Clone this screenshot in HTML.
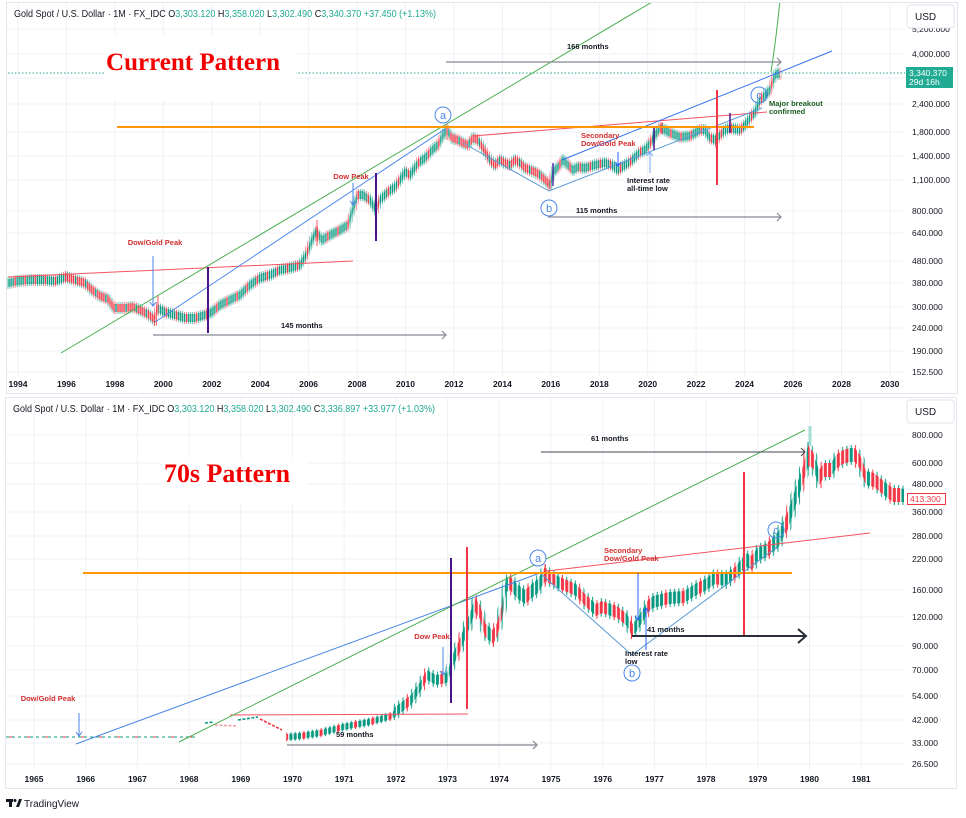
<!DOCTYPE html>
<html><head><meta charset="utf-8">
<style>
html,body{margin:0;padding:0;background:#fff;}
svg{display:block;font-family:"Liberation Sans",sans-serif;}
.ax{font-size:8.5px;fill:#131722;}
.tx{font-size:8.5px;fill:#131722;font-weight:bold;text-anchor:middle;}
.an{font-size:7.5px;font-weight:bold;}
</style></head><body>
<svg width="966" height="818" viewBox="0 0 966 818" xmlns="http://www.w3.org/2000/svg">
<defs>
<clipPath id="c1"><rect x="7" y="3" width="898" height="373"/></clipPath>
<clipPath id="c2"><rect x="6" y="398" width="899" height="372"/></clipPath>
<pattern id="tu" patternUnits="userSpaceOnUse" x="0" y="0" width="10.09" height="10">
<rect x="0.3" y="0" width="1.35" height="10" fill="#089981"/>
<rect x="2.32" y="0" width="1.35" height="10" fill="#089981"/>
<rect x="4.34" y="0" width="1.35" height="10" fill="#f23645"/>
<rect x="6.36" y="0" width="1.35" height="10" fill="#089981"/>
<rect x="8.38" y="0" width="1.35" height="10" fill="#089981"/>
</pattern>
<pattern id="td" patternUnits="userSpaceOnUse" x="0" y="0" width="10.09" height="10">
<rect x="0.3" y="0" width="1.35" height="10" fill="#f23645"/>
<rect x="2.32" y="0" width="1.35" height="10" fill="#f23645"/>
<rect x="4.34" y="0" width="1.35" height="10" fill="#089981"/>
<rect x="6.36" y="0" width="1.35" height="10" fill="#f23645"/>
<rect x="8.38" y="0" width="1.35" height="10" fill="#f23645"/>
</pattern>
<pattern id="tw" patternUnits="userSpaceOnUse" x="0" y="0" width="10.09" height="10">
<rect x="0.7" y="0" width="0.6" height="10" fill="#089981"/>
<rect x="2.72" y="0" width="0.6" height="10" fill="#f23645"/>
<rect x="4.74" y="0" width="0.6" height="10" fill="#f23645"/>
<rect x="6.76" y="0" width="0.6" height="10" fill="#089981"/>
<rect x="8.78" y="0" width="0.6" height="10" fill="#089981"/>
</pattern>
<pattern id="bu" patternUnits="userSpaceOnUse" x="0" y="0" width="17.24" height="10">
<rect x="0.65" y="0" width="3" height="10" fill="#089981"/>
<rect x="4.96" y="0" width="3" height="10" fill="#089981"/>
<rect x="9.27" y="0" width="3" height="10" fill="#f23645"/>
<rect x="13.58" y="0" width="3" height="10" fill="#089981"/>
</pattern>
<pattern id="bd" patternUnits="userSpaceOnUse" x="0" y="0" width="17.24" height="10">
<rect x="0.65" y="0" width="3" height="10" fill="#f23645"/>
<rect x="4.96" y="0" width="3" height="10" fill="#089981"/>
<rect x="9.27" y="0" width="3" height="10" fill="#f23645"/>
<rect x="13.58" y="0" width="3" height="10" fill="#f23645"/>
</pattern>
<pattern id="bw" patternUnits="userSpaceOnUse" x="0" y="0" width="17.24" height="10">
<rect x="1.65" y="0" width="1" height="10" fill="#089981"/>
<rect x="5.96" y="0" width="1" height="10" fill="#089981"/>
<rect x="10.27" y="0" width="1" height="10" fill="#f23645"/>
<rect x="14.58" y="0" width="1" height="10" fill="#089981"/>
</pattern>
</defs>
<rect x="0" y="0" width="966" height="818" fill="#fff"/>
<rect x="6.5" y="2.5" width="951" height="391" fill="none" stroke="#e3e6ec" stroke-width="1"/>
<rect x="5.5" y="397.5" width="951" height="391" fill="none" stroke="#e3e6ec" stroke-width="1"/>

<path stroke="#eff1f5" stroke-width="1" fill="none" d="M7 29H905M7 54H905M7 78H905M7 104H905M7 132H905M7 156H905M7 180H905M7 211H905M7 233H905M7 261H905M7 283H905M7 307H905M7 328H905M7 351H905M7 372H905
M18 3V376M66.4 3V376M114.9 3V376M163.3 3V376M211.8 3V376M260.2 3V376M308.6 3V376M357.1 3V376M405.5 3V376M453.9 3V376M502.4 3V376M550.8 3V376M599.3 3V376M647.7 3V376M696.1 3V376M744.6 3V376M793 3V376M841.5 3V376M889.9 3V376"/>
<path stroke="#eff1f5" stroke-width="1" fill="none" d="M6 435H905M6 463H905M6 484H905M6 512H905M6 536H905M6 559H905M6 590H905M6 617H905M6 646H905M6 670H905M6 696H905M6 720H905M6 743H905M6 764H905
M34 398V770M85.7 398V770M137.4 398V770M189.1 398V770M240.8 398V770M292.5 398V770M344.2 398V770M395.9 398V770M447.6 398V770M499.3 398V770M551 398V770M602.7 398V770M654.4 398V770M706.1 398V770M757.8 398V770M809.5 398V770M861.2 398V770"/>

<line x1="8" y1="73" x2="905" y2="73" stroke="#22ab94" stroke-width="1" stroke-dasharray="1.5 2"/>
<rect x="104" y="35" width="192" height="65" fill="#fff"/>
<rect x="160" y="458" width="146" height="45" fill="#fff"/>

<g clip-path="url(#c1)" stroke-width="4" stroke-linejoin="round" paint-order="stroke">
<polygon fill="url(#tu)" stroke="url(#tw)" points="8,279 18,277 30,276 45,276 55,277 66,273 66,281 55,285 45,284 30,284 18,285 8,287"/>
<polygon fill="url(#td)" stroke="url(#tw)" points="66,273 75,276 85,279 92,286 100,292 108,295 114,304 125,304 133,303 140,306 148,310 155,316 155,324 148,318 140,314 133,311 125,312 114,312 108,303 100,300 92,294 85,287 75,284 66,281"/>
<polygon fill="url(#tu)" stroke="url(#tw)" points="155,316 157,304 165,308 175,311 185,314 195,314 205,311 212,308 220,301 230,296 240,291 250,281 260,274 270,271 280,266 290,264 300,261 306,251 312,236 316,228 322,236 330,231 340,226 348,221 352,208 358,191 363,191 370,196 376,206 380,196 388,188 395,183 400,176 405,168 410,171 418,159 425,154 432,146 438,141 443,131 447,126 447,134 443,139 438,149 432,154 425,162 418,167 410,179 405,176 400,184 395,191 388,196 380,204 376,214 370,204 363,199 358,199 352,216 348,229 340,234 330,239 322,244 316,236 312,244 306,259 300,269 290,272 280,274 270,279 260,282 250,289 240,299 230,304 220,309 212,316 205,319 195,322 185,322 175,319 165,316 157,312 155,324"/>
<polygon fill="url(#td)" stroke="url(#tw)" points="447,126 452,134 458,136 463,139 468,141 473,134 478,136 483,144 487,151 490,156 495,161 500,156 505,159 510,161 515,156 520,159 525,164 530,166 535,168 540,171 545,176 550,181 550,189 545,184 540,179 535,176 530,174 525,172 520,167 515,164 510,169 505,167 500,164 495,169 490,164 487,159 483,152 478,144 473,142 468,149 463,147 458,144 452,142 447,134"/>
<polygon fill="url(#tu)" stroke="url(#tw)" points="550,181 553,168 558,163 563,156 568,161 573,166 578,163 585,164 595,161 605,159 612,161 618,166 625,161 630,158 635,153 640,148 645,146 650,139 655,131 660,124 665,126 670,129 675,131 680,133 690,132 700,126 705,126 710,134 716,136 720,131 725,126 730,124 740,126 745,121 750,114 755,108 760,96 765,91 770,86 773,76 776,70 779,69 780,78 776,78 773,84 770,94 765,99 760,104 755,116 750,122 745,129 740,134 730,132 725,134 720,139 716,144 710,142 705,134 700,134 690,140 680,141 675,139 670,137 665,134 660,132 655,139 650,147 645,154 640,156 635,161 630,166 625,169 618,174 612,169 605,167 595,169 585,172 578,171 573,174 568,169 563,164 558,171 553,176 550,189"/>
</g>
<path d="M158 295V315M317 220V246M447 126V140M376 200V226M662 122V134M716 138V148" stroke="#f7525f" stroke-width="1" fill="none"/>

<g clip-path="url(#c2)" stroke-width="6" stroke-linejoin="round" paint-order="stroke">
<polygon fill="url(#bu)" stroke="url(#bw)" stroke-width="3" points="287,734 300,733 320,730 343,724 369,719 392,713 395,709 395,715 392,719 369,725 343,730 320,736 300,739 287,740"/>
<polygon fill="url(#bu)" stroke="url(#bw)" points="395,707 411,695 420,682 427,670 436,675 447,673 452,656 460,638 470,613 475,598 475,612 470,627 460,652 452,668 447,683 436,685 427,680 420,692 411,705 395,717"/>
<polygon fill="url(#bd)" stroke="url(#bw)" points="475,598 480,605 485,623 493,630 497,623 503,600 503,614 497,637 493,644 485,637 480,619 475,612"/>
<polygon fill="url(#bu)" stroke="url(#bw)" points="503,600 506,578 510,576 518,585 525,590 533,583 538,579 545,567 545,581 538,593 533,597 525,604 518,599 510,590 506,592 503,614"/>
<polygon fill="url(#bd)" stroke="url(#bw)" points="545,567 550,572 560,577 576,584 585,594 596,604 602,601 617,606 627,614 632,624 632,636 627,626 617,618 602,613 596,616 585,606 576,596 560,589 550,584 545,581"/>
<polygon fill="url(#bu)" stroke="url(#bw)" points="632,624 637,619 643,609 648,600 653,596 669,592 684,591 695,584 705,579 715,572 726,574 736,566 746,553 752,556 757,548 767,543 778,532 783,522 788,511 793,496 798,481 803,466 808,445 808,466 803,484 798,499 793,514 788,529 783,538 778,548 767,557 757,562 752,570 746,567 736,578 726,586 715,584 705,591 695,596 684,603 669,604 653,608 648,612 643,621 637,631 632,636"/>
<polygon fill="url(#bd)" stroke="url(#bw)" points="808,445 813,452 819,470 824,463 831,463 836,455 843,450 850,448 855,448 860,455 866,471 874,473 880,478 886,483 893,488 900,488 904,489 904,502 900,502 893,502 886,497 880,492 874,487 866,485 860,469 855,462 850,462 843,464 836,469 831,477 824,477 819,486 813,468 808,466"/>
</g>
<rect x="808.5" y="426" width="3" height="20" fill="#a5dcd3"/>
<g fill="none" stroke-width="1.6">
<path d="M205 723L214 722" stroke="#089981" stroke-dasharray="3 1.5"/>
<path d="M215 725L237 726" stroke="#f7a1a8" stroke-dasharray="3 1.5"/>
<path d="M238 720L258 717" stroke="#089981" stroke-dasharray="3 1.5"/>
<path d="M260 719L282 730" stroke="#f23645" stroke-dasharray="3 1.5"/>
</g>

<g clip-path="url(#c1)" fill="none">
<line x1="8" y1="277" x2="353" y2="261" stroke="#f7525f" stroke-width="1"/>
<line x1="473" y1="136" x2="767" y2="112" stroke="#f7525f" stroke-width="1"/>
<line x1="61" y1="353" x2="652" y2="2" stroke="#4caf50" stroke-width="1"/>
<path d="M771 72 Q776 40 780 0" stroke="#4caf50" stroke-width="1"/>
<line x1="155" y1="322" x2="445" y2="129" stroke="#4a86e8" stroke-width="1"/>
<polyline points="463,143 549,191 762,108" stroke="#5b9bd5" stroke-width="1"/>
<line x1="562" y1="160" x2="832" y2="51" stroke="#3570f0" stroke-width="1"/>
<line x1="117" y1="127" x2="754" y2="127" stroke="#ff9800" stroke-width="2"/>
<line x1="717" y1="90" x2="717" y2="185" stroke="#f23645" stroke-width="2"/>
<line x1="208" y1="267" x2="208" y2="333" stroke="#4a148c" stroke-width="2"/>
<line x1="376" y1="173" x2="376" y2="241" stroke="#4a148c" stroke-width="2"/>
<line x1="553" y1="163" x2="553" y2="186" stroke="#5e35b1" stroke-width="1.5"/>
<line x1="654" y1="128" x2="654" y2="150" stroke="#4a148c" stroke-width="1.5"/>
<line x1="730" y1="113" x2="730" y2="133" stroke="#4a148c" stroke-width="1.5"/>
<path d="M153 256V306M150 302L153 306L156 302" stroke="#4a86e8" stroke-width="1"/>
<path d="M353 183V205M350 201L353 205L356 201" stroke="#4a86e8" stroke-width="1"/>
<path d="M618 152V166M615 162L618 166L621 162" stroke="#2962ff" stroke-width="1"/>
<path d="M650 173V152M647 156L650 152L653 156" stroke="#7aa7f0" stroke-width="1"/>
<path d="M446 62H781M777 58L781 62L777 66" stroke="#868993" stroke-width="1.2"/>
<path d="M548 217H781M777 213L781 217L777 221" stroke="#868993" stroke-width="1.2"/>
<path d="M153 335H446M442 331L446 335L442 339" stroke="#868993" stroke-width="1.2"/>
<circle cx="443" cy="115" r="8" stroke="#4a86e8" stroke-width="1" fill="#fff"/>
<circle cx="549" cy="208" r="8" stroke="#4a86e8" stroke-width="1" fill="#fff"/>
<circle cx="759" cy="95" r="8" stroke="#4a86e8" stroke-width="1"/>
</g>
<g>
<text x="443" y="119" font-size="11" fill="#4a86e8" text-anchor="middle">a</text>
<text x="549" y="212" font-size="11" fill="#4a86e8" text-anchor="middle">b</text>
<text x="759" y="99" font-size="11" fill="#4a86e8" text-anchor="middle">c</text>
<text class="an" x="155" y="245" fill="#d32f2f" text-anchor="middle">Dow/Gold Peak</text>
<text class="an" x="351" y="179" fill="#d32f2f" text-anchor="middle">Dow Peak</text>
<text class="an" x="581" y="138" fill="#d32f2f">Secondary</text>
<text class="an" x="581" y="146" fill="#d32f2f">Dow/Gold Peak</text>
<text class="an" x="627" y="183" fill="#131722">Interest rate</text>
<text class="an" x="627" y="191" fill="#131722">all-time low</text>
<text class="an" x="769" y="106" fill="#1b5e20">Major breakout</text>
<text class="an" x="769" y="114" fill="#1b5e20">confirmed</text>
<text class="an" x="567" y="49" fill="#131722">166 months</text>
<text class="an" x="576" y="213" fill="#131722">115 months</text>
<text class="an" x="281" y="328" fill="#131722">145 months</text>
</g>

<g clip-path="url(#c2)" fill="none">
<line x1="6" y1="737" x2="198" y2="737" stroke="#089981" stroke-width="1" stroke-dasharray="3 3"/>
<line x1="9" y1="737" x2="198" y2="737" stroke="#f23645" stroke-width="1" stroke-dasharray="3 15"/>
<line x1="230" y1="715" x2="468" y2="714" stroke="#f7525f" stroke-width="1"/>
<line x1="76" y1="744" x2="540" y2="573" stroke="#4a86e8" stroke-width="1"/>
<line x1="179" y1="742" x2="805" y2="430" stroke="#4caf50" stroke-width="1"/>
<polyline points="540,573 632,655 777,547" stroke="#5b9bd5" stroke-width="1"/>
<line x1="547" y1="571" x2="870" y2="533" stroke="#f7525f" stroke-width="1"/>
<line x1="83" y1="573" x2="792" y2="573" stroke="#ff9800" stroke-width="2"/>
<line x1="451" y1="558" x2="451" y2="703" stroke="#4a148c" stroke-width="2"/>
<line x1="467" y1="547" x2="467" y2="709" stroke="#f23645" stroke-width="2"/>
<line x1="744" y1="472" x2="744" y2="637" stroke="#f23645" stroke-width="2"/>
<path d="M638 573V620M635 616L638 620L641 616" stroke="#2962ff" stroke-width="1"/>
<path d="M646 650V608M643 612L646 608L649 612" stroke="#2962ff" stroke-width="1"/>
<path d="M443 647V675M440 671L443 675L446 671" stroke="#4a86e8" stroke-width="1"/>
<path d="M79 713V736M76 732L79 736L82 732" stroke="#4a86e8" stroke-width="1"/>
<path d="M541 452H805M801 448L805 452L801 456" stroke="#434651" stroke-width="1"/>
<path d="M632 636H806M798 629L806 636L798 643" stroke="#2a2e39" stroke-width="2"/>
<path d="M287 745H537M533 741L537 745L533 749" stroke="#9598a1" stroke-width="1.5"/>
<circle cx="538" cy="558" r="8" stroke="#4a86e8" stroke-width="1" fill="#fff"/>
<circle cx="632" cy="673" r="8" stroke="#4a86e8" stroke-width="1" fill="#fff"/>
<circle cx="776" cy="530" r="8" stroke="#4a86e8" stroke-width="1"/>
</g>
<g>
<text x="538" y="562" font-size="11" fill="#4a86e8" text-anchor="middle">a</text>
<text x="632" y="677" font-size="11" fill="#4a86e8" text-anchor="middle">b</text>
<text x="776" y="534" font-size="11" fill="#4a86e8" text-anchor="middle">c</text>
<text class="an" x="48" y="701" fill="#d32f2f" text-anchor="middle">Dow/Gold Peak</text>
<text class="an" x="432" y="639" fill="#d32f2f" text-anchor="middle">Dow Peak</text>
<text class="an" x="604" y="553" fill="#d32f2f">Secondary</text>
<text class="an" x="604" y="561" fill="#d32f2f">Dow/Gold Peak</text>
<text class="an" x="625" y="656" fill="#131722">Interest rate</text>
<text class="an" x="625" y="664" fill="#131722">low</text>
<text class="an" x="647" y="632" fill="#131722">41 months</text>
<text class="an" x="591" y="441" fill="#131722">61 months</text>
<text class="an" x="336" y="737" fill="#131722">59 months</text>
</g>

<text x="106" y="70" font-family="Liberation Serif, serif" font-weight="bold" font-size="25" fill="#f20000" textLength="174" lengthAdjust="spacingAndGlyphs">Current Pattern</text>
<text x="164" y="482" font-family="Liberation Serif, serif" font-weight="bold" font-size="26" fill="#f20000" textLength="126" lengthAdjust="spacingAndGlyphs">70s Pattern</text>

<text x="14" y="17" font-size="10" fill="#131722" textLength="422" lengthAdjust="spacingAndGlyphs">Gold Spot / U.S. Dollar · 1M · FX_IDC  O<tspan fill="#22ab94">3,303.120</tspan>  H<tspan fill="#22ab94">3,358.020</tspan>  L<tspan fill="#22ab94">3,302.490</tspan>  C<tspan fill="#22ab94">3,340.370</tspan>  <tspan fill="#22ab94">+37.450 (+1.13%)</tspan></text>
<text x="13" y="412" font-size="10" fill="#131722" textLength="422" lengthAdjust="spacingAndGlyphs">Gold Spot / U.S. Dollar · 1M · FX_IDC  O<tspan fill="#22ab94">3,303.120</tspan>  H<tspan fill="#22ab94">3,358.020</tspan>  L<tspan fill="#22ab94">3,302.490</tspan>  C<tspan fill="#22ab94">3,336.897</tspan>  <tspan fill="#22ab94">+33.977 (+1.03%)</tspan></text>

<g>
<text class="ax" x="912" y="32">5,200.000</text>
<text class="ax" x="912" y="57">4,000.000</text>
<text class="ax" x="912" y="107">2,400.000</text>
<text class="ax" x="912" y="135">1,800.000</text>
<text class="ax" x="912" y="159">1,400.000</text>
<text class="ax" x="912" y="183">1,100.000</text>
<text class="ax" x="912" y="214">800.000</text>
<text class="ax" x="912" y="236">640.000</text>
<text class="ax" x="912" y="264">480.000</text>
<text class="ax" x="912" y="286">380.000</text>
<text class="ax" x="912" y="310">300.000</text>
<text class="ax" x="912" y="331">240.000</text>
<text class="ax" x="912" y="354">190.000</text>
<text class="ax" x="912" y="375">152.500</text>
</g>
<rect x="907" y="5" width="47" height="23" rx="3" fill="#fff" stroke="#e0e3eb"/>
<text x="915" y="20" font-size="10" fill="#131722">USD</text>
<rect x="906" y="67" width="47" height="21" fill="#22ab94"/>
<text x="909" y="76" font-size="8.5" fill="#fff">3,340.370</text>
<text x="909" y="85" font-size="8.5" fill="#fff">29d 16h</text>

<g>
<text class="tx" x="18" y="387">1994</text>
<text class="tx" x="66.4" y="387">1996</text>
<text class="tx" x="114.9" y="387">1998</text>
<text class="tx" x="163.3" y="387">2000</text>
<text class="tx" x="211.8" y="387">2002</text>
<text class="tx" x="260.2" y="387">2004</text>
<text class="tx" x="308.6" y="387">2006</text>
<text class="tx" x="357.1" y="387">2008</text>
<text class="tx" x="405.5" y="387">2010</text>
<text class="tx" x="453.9" y="387">2012</text>
<text class="tx" x="502.4" y="387">2014</text>
<text class="tx" x="550.8" y="387">2016</text>
<text class="tx" x="599.3" y="387">2018</text>
<text class="tx" x="647.7" y="387">2020</text>
<text class="tx" x="696.1" y="387">2022</text>
<text class="tx" x="744.6" y="387">2024</text>
<text class="tx" x="793" y="387">2026</text>
<text class="tx" x="841.5" y="387">2028</text>
<text class="tx" x="889.9" y="387">2030</text>
</g>

<g>
<text class="ax" x="912" y="438">800.000</text>
<text class="ax" x="912" y="466">600.000</text>
<text class="ax" x="912" y="487">480.000</text>
<text class="ax" x="912" y="515">360.000</text>
<text class="ax" x="912" y="539">280.000</text>
<text class="ax" x="912" y="562">220.000</text>
<text class="ax" x="912" y="593">160.000</text>
<text class="ax" x="912" y="620">120.000</text>
<text class="ax" x="912" y="649">90.000</text>
<text class="ax" x="912" y="673">70.000</text>
<text class="ax" x="912" y="699">54.000</text>
<text class="ax" x="912" y="723">42.000</text>
<text class="ax" x="912" y="746">33.000</text>
<text class="ax" x="912" y="767">26.500</text>
</g>
<rect x="907" y="400" width="47" height="23" rx="3" fill="#fff" stroke="#e0e3eb"/>
<text x="915" y="415" font-size="10" fill="#131722">USD</text>
<rect x="907.5" y="493.5" width="38" height="11" fill="#fff" stroke="#f23645"/>
<text x="910" y="502" font-size="8.5" fill="#f23645">413.300</text>

<g>
<text class="tx" x="34" y="782">1965</text>
<text class="tx" x="85.7" y="782">1966</text>
<text class="tx" x="137.4" y="782">1967</text>
<text class="tx" x="189.1" y="782">1968</text>
<text class="tx" x="240.8" y="782">1969</text>
<text class="tx" x="292.5" y="782">1970</text>
<text class="tx" x="344.2" y="782">1971</text>
<text class="tx" x="395.9" y="782">1972</text>
<text class="tx" x="447.6" y="782">1973</text>
<text class="tx" x="499.3" y="782">1974</text>
<text class="tx" x="551" y="782">1975</text>
<text class="tx" x="602.7" y="782">1976</text>
<text class="tx" x="654.4" y="782">1977</text>
<text class="tx" x="706.1" y="782">1978</text>
<text class="tx" x="757.8" y="782">1979</text>
<text class="tx" x="809.5" y="782">1980</text>
<text class="tx" x="861.2" y="782">1981</text>
</g>

<g fill="#131722">
<rect x="6" y="799" width="7" height="3"/>
<rect x="9" y="799" width="3" height="8"/>
<circle cx="15" cy="800.5" r="1.5"/>
<polygon points="16,807 19,799 22,799 19,807"/>
</g>
<text x="24" y="807" font-size="10" fill="#131722">TradingView</text>
</svg>
</body></html>
